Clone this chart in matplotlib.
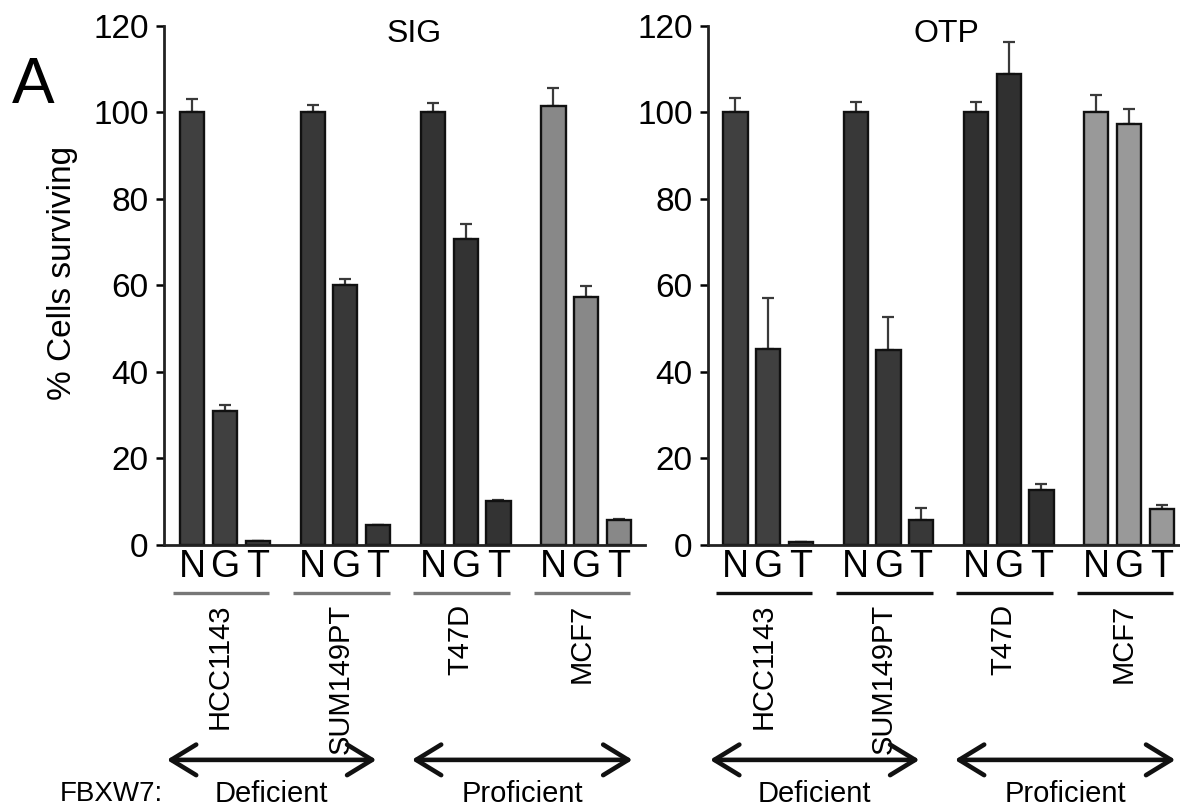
import matplotlib
matplotlib.use("Agg")
import matplotlib.pyplot as plt
import numpy as np

plt.rcParams['font.family'] = ['Liberation Sans', 'DejaVu Sans']

# ---------------- data ----------------
cell_lines = ['HCC1143', 'SUM149PT', 'T47D', 'MCF7']
treatments = ['N', 'G', 'T']
status_labels = ['Deficient', 'Proficient']
panel_titles = ['SIG', 'OTP']

sig_values = [[100, 31.0, 0.9], [100, 60.0, 4.6], [100, 70.7, 10.2], [101.4, 57.3, 5.7]]
sig_errors = [[3.2, 1.3, 0.0], [1.8, 1.5, 0.0], [2.3, 3.4, 0.3], [4.3, 2.5, 0.2]]
otp_values = [[100, 45.3, 0.7], [100, 45.0, 5.8], [100, 108.9, 12.6], [100, 97.4, 8.3]]
otp_errors = [[3.4, 11.9, 0.0], [2.5, 7.8, 2.7], [2.4, 7.3, 1.6], [4.1, 3.5, 1.0]]

yticks = [0, 20, 40, 60, 80, 100, 120]

# ---------------- styling ----------------
sig_colors = ['#404040', '#383838', '#333333', '#888888']
otp_colors = ['#404040', '#383838', '#303030', '#999999']
underline_colors = ['#777777', '#111111']
group_step = 3.68
bar_w = 0.74

fig = plt.figure(figsize=(11.8, 8.11), dpi=100)
ax1 = fig.add_axes([0.1390, 0.3280, 0.4076, 0.6400])
ax2 = fig.add_axes([0.6000, 0.3280, 0.4000, 0.6400])

def draw_panel(ax, values, errors, colors, title, xlim, uline_color, title_x):
    xs_all, labels_all = [], []
    for g, name in enumerate(cell_lines):
        xs = g * group_step + np.arange(len(treatments))
        ax.bar(xs, values[g], width=bar_w, color=colors[g], edgecolor='#111111',
               linewidth=1.7, zorder=2)
        err = np.array(errors[g])
        ax.errorbar(xs, values[g], yerr=[np.zeros_like(err), err], fmt='none',
                    ecolor='#3a3a3a', elinewidth=1.6, capsize=4, capthick=1.6, zorder=1)
        xs_all.extend(xs)
        labels_all.extend(treatments)
        # underline below N G T
        ax.plot([xs[0] - 0.6, xs[-1] + 0.35], [-0.0925, -0.0925], color=uline_color,
                lw=2.4, transform=ax.get_xaxis_transform(), clip_on=False,
                solid_capstyle='butt')
        # cell line name
        ax.text(xs[1] - 0.15, -0.113, name, rotation=90, ha='center', va='top',
                fontsize=21, transform=ax.get_xaxis_transform())
    ax.set_xticks(xs_all)
    ax.set_xticklabels(labels_all, fontsize=27)
    ax.tick_params(axis='x', length=0, pad=3)
    ax.set_xlim(*xlim)
    ax.set_ylim(0, 120)
    ax.set_yticks(yticks)
    ax.tick_params(axis='y', labelsize=24, length=6, width=1.8, pad=5, direction='out')
    for s in ['top', 'right']:
        ax.spines[s].set_visible(False)
    for s in ['left', 'bottom']:
        ax.spines[s].set_linewidth(2.0)
        ax.spines[s].set_color('#222222')
    ax.spines['bottom'].set_zorder(3)
    ax.text(title_x, 0.985, title, transform=ax.transAxes, ha='center', va='center',
            fontsize=23)
    # FBXW7 status arrows
    tr = ax.get_xaxis_transform()
    spans = [(-0.78, 2 + group_step - 0.05),
             (2 * group_step - 0.65, 3 * group_step + 2 + 0.42)]
    for (x0, x1), lab in zip(spans, status_labels):
        ax.annotate('', xy=(x1, -0.414), xytext=(x0, -0.414), xycoords=tr,
                    textcoords=tr, annotation_clip=False,
                    arrowprops=dict(arrowstyle='<->,head_length=0.9,head_width=0.55',
                                    lw=3.3, color='#111111', shrinkA=0, shrinkB=0,
                                    mutation_scale=20))
        ax.text((x0 + x1) / 2, -0.48, lab, transform=tr, ha='center', va='center',
                fontsize=21)

draw_panel(ax1, sig_values, sig_errors, sig_colors, panel_titles[0], (-0.865, 13.84),
           underline_colors[0], 0.52)
draw_panel(ax2, otp_values, otp_errors, otp_colors, panel_titles[1], (-0.84, 13.6),
           underline_colors[1], 0.505)

fig.text(62 / 1180, 1 - 273 / 811, '% Cells surviving', rotation=90, ha='center',
         va='center', fontsize=24)
fig.text(12 / 1180, 1 - 86 / 811, 'A', ha='left', va='center', fontsize=46)
fig.text(60 / 1180, 1 - 794 / 811, 'FBXW7:', ha='left', va='center', fontsize=20)

fig.savefig('out.png', dpi=100)
